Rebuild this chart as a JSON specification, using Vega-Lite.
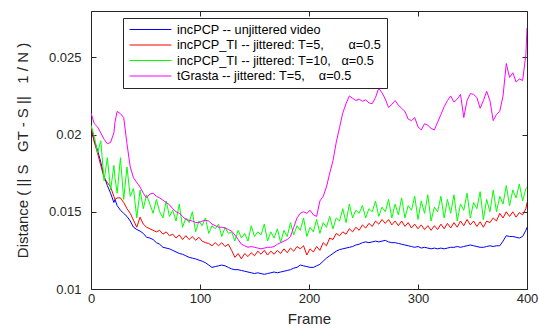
{
  "$schema": "https://vega.github.io/schema/vega-lite/v6.json",
  "width": 436,
  "height": 278,
  "autosize": {"type": "none"},
  "padding": {"left": 91, "top": 11, "right": 12, "bottom": 40},
  "background": "white",
  "config": {
    "font": "Liberation Sans",
    "view": {"stroke": null},
    "axis": {"grid": false, "labelFlush": false, "labelOverlap": false, "domainColor": "#262626", "tickColor": "#262626", "labelColor": "#262626", "titleColor": "#262626", "labelFont": "Liberation Sans", "titleFont": "Liberation Sans", "labelFontSize": 13, "titleFontSize": 15, "titleFontWeight": "normal", "tickSize": -5, "domainWidth": 1}
  },
  "data": {"values": [
    {"f":0,"a":0.0203,"b":0.0206,"c":0.0206,"d":0.0214},
    {"f":3,"a":0.0196,"b":0.0195,"c":0.0199,"d":0.0207},
    {"f":6,"a":0.0190,"b":0.0188,"c":0.0188,"d":0.0205},
    {"f":9,"a":0.0182,"b":0.0180,"c":0.0196,"d":0.0201},
    {"f":12,"a":0.0173,"b":0.0172,"c":0.0170,"d":0.0197},
    {"f":15,"a":0.0167,"b":0.0169,"c":0.0185,"d":0.0194},
    {"f":18,"a":0.0162,"b":0.0166,"c":0.0164,"d":0.0195},
    {"f":21,"a":0.0156,"b":0.0160,"c":0.0180,"d":0.0201},
    {"f":22,"a":0.0158,"b":0.0158,"c":0.0172,"d":0.0208},
    {"f":24,"a":0.0154,"b":0.0159,"c":0.0162,"d":0.0215},
    {"f":27,"a":0.0151,"b":0.0159,"c":0.0185,"d":0.02135},
    {"f":30,"a":0.0149,"b":0.0156,"c":0.0158,"d":0.0211},
    {"f":33,"a":0.0147,"b":0.0152,"c":0.0179,"d":0.0194},
    {"f":36,"a":0.0144,"b":0.0149,"c":0.0160,"d":0.0179},
    {"f":39,"a":0.0140,"b":0.01445,"c":0.0165,"d":0.0172},
    {"f":42,"a":0.01385,"b":0.0140,"c":0.0146,"d":0.0169},
    {"f":45,"a":0.01375,"b":0.01465,"c":0.0164,"d":0.0166},
    {"f":48,"a":0.0136,"b":0.0142,"c":0.0152,"d":0.0162},
    {"f":51,"a":0.01335,"b":0.0140,"c":0.0161,"d":0.0159},
    {"f":54,"a":0.0133,"b":0.0139,"c":0.0155,"d":0.01615},
    {"f":57,"a":0.0132,"b":0.0138,"c":0.0149,"d":0.0162},
    {"f":60,"a":0.0130,"b":0.0137,"c":0.0158,"d":0.0160},
    {"f":63,"a":0.0129,"b":0.0138,"c":0.0150,"d":0.0159},
    {"f":66,"a":0.0127,"b":0.01355,"c":0.0146,"d":0.01575},
    {"f":69,"a":0.01265,"b":0.0137,"c":0.0157,"d":0.0156},
    {"f":72,"a":0.0126,"b":0.01345,"c":0.0147,"d":0.01545},
    {"f":75,"a":0.0125,"b":0.01355,"c":0.0151,"d":0.0152},
    {"f":78,"a":0.0124,"b":0.0133,"c":0.0144,"d":0.0150},
    {"f":81,"a":0.0123,"b":0.0135,"c":0.0155,"d":0.0149},
    {"f":84,"a":0.01225,"b":0.0132,"c":0.0140,"d":0.0147},
    {"f":87,"a":0.01215,"b":0.01345,"c":0.0146,"d":0.0145},
    {"f":90,"a":0.01205,"b":0.0132,"c":0.0143,"d":0.01445},
    {"f":93,"a":0.0120,"b":0.0134,"c":0.0150,"d":0.0144},
    {"f":96,"a":0.01195,"b":0.01315,"c":0.0137,"d":0.0143},
    {"f":99,"a":0.01187,"b":0.01335,"c":0.0144,"d":0.0143},
    {"f":102,"a":0.0118,"b":0.0131,"c":0.0141,"d":0.0144},
    {"f":105,"a":0.0117,"b":0.0130,"c":0.0146,"d":0.01445},
    {"f":108,"a":0.01155,"b":0.01295,"c":0.0136,"d":0.0144},
    {"f":111,"a":0.0114,"b":0.0128,"c":0.0141,"d":0.0142},
    {"f":114,"a":0.01145,"b":0.0130,"c":0.0139,"d":0.0141},
    {"f":117,"a":0.0115,"b":0.0128,"c":0.0142,"d":0.0140},
    {"f":120,"a":0.01155,"b":0.0130,"c":0.0134,"d":0.0140},
    {"f":123,"a":0.0115,"b":0.01275,"c":0.0140,"d":0.01395},
    {"f":126,"a":0.0114,"b":0.0129,"c":0.0136,"d":0.01385},
    {"f":129,"a":0.0113,"b":0.0125,"c":0.0137,"d":0.01375},
    {"f":132,"a":0.01125,"b":0.01205,"c":0.0131,"d":0.0135},
    {"f":135,"a":0.01125,"b":0.0123,"c":0.0138,"d":0.0132},
    {"f":138,"a":0.0112,"b":0.01195,"c":0.0133,"d":0.0129},
    {"f":141,"a":0.01115,"b":0.0123,"c":0.0136,"d":0.0128},
    {"f":144,"a":0.0111,"b":0.0121,"c":0.0131,"d":0.0127},
    {"f":147,"a":0.01105,"b":0.01235,"c":0.0141,"d":0.01275},
    {"f":150,"a":0.0110,"b":0.01215,"c":0.0134,"d":0.0127},
    {"f":153,"a":0.01105,"b":0.01245,"c":0.0137,"d":0.01265},
    {"f":156,"a":0.0110,"b":0.01225,"c":0.0135,"d":0.0126},
    {"f":159,"a":0.01095,"b":0.0125,"c":0.0142,"d":0.01265},
    {"f":162,"a":0.0110,"b":0.0122,"c":0.0131,"d":0.0127},
    {"f":165,"a":0.01105,"b":0.01245,"c":0.0137,"d":0.0127},
    {"f":168,"a":0.0111,"b":0.01225,"c":0.0133,"d":0.01275},
    {"f":171,"a":0.01105,"b":0.0125,"c":0.0139,"d":0.0129},
    {"f":174,"a":0.0111,"b":0.0123,"c":0.0130,"d":0.0130},
    {"f":177,"a":0.01115,"b":0.0126,"c":0.0138,"d":0.0131},
    {"f":180,"a":0.0112,"b":0.01235,"c":0.0134,"d":0.0132},
    {"f":183,"a":0.01125,"b":0.01265,"c":0.0143,"d":0.0134},
    {"f":186,"a":0.01135,"b":0.01245,"c":0.0135,"d":0.0140},
    {"f":189,"a":0.0114,"b":0.01275,"c":0.0141,"d":0.0146},
    {"f":192,"a":0.01155,"b":0.0126,"c":0.0138,"d":0.0149},
    {"f":195,"a":0.0115,"b":0.0128,"c":0.0146,"d":0.0150},
    {"f":198,"a":0.01145,"b":0.0122,"c":0.0134,"d":0.0149},
    {"f":201,"a":0.0114,"b":0.0126,"c":0.0140,"d":0.0151},
    {"f":204,"a":0.0114,"b":0.0124,"c":0.0137,"d":0.0148},
    {"f":207,"a":0.0115,"b":0.01275,"c":0.0145,"d":0.0147},
    {"f":210,"a":0.0116,"b":0.0125,"c":0.0136,"d":0.0157},
    {"f":213,"a":0.0118,"b":0.0130,"c":0.0143,"d":0.0160},
    {"f":216,"a":0.0120,"b":0.0128,"c":0.0140,"d":0.0166},
    {"f":219,"a":0.01215,"b":0.0133,"c":0.0147,"d":0.0175},
    {"f":222,"a":0.0123,"b":0.0132,"c":0.0139,"d":0.0183},
    {"f":225,"a":0.01245,"b":0.0136,"c":0.0146,"d":0.0195},
    {"f":228,"a":0.01255,"b":0.01345,"c":0.0144,"d":0.02045},
    {"f":231,"a":0.0126,"b":0.0137,"c":0.0152,"d":0.0214},
    {"f":234,"a":0.01265,"b":0.01355,"c":0.0143,"d":0.0220},
    {"f":237,"a":0.0127,"b":0.0139,"c":0.0155,"d":0.0225},
    {"f":240,"a":0.01275,"b":0.0137,"c":0.0146,"d":0.02235},
    {"f":243,"a":0.01285,"b":0.0140,"c":0.0151,"d":0.0222},
    {"f":246,"a":0.0129,"b":0.0138,"c":0.0149,"d":0.0223},
    {"f":249,"a":0.0130,"b":0.01415,"c":0.0154,"d":0.02215},
    {"f":252,"a":0.01305,"b":0.01395,"c":0.0146,"d":0.02225},
    {"f":255,"a":0.0130,"b":0.01425,"c":0.0152,"d":0.02205},
    {"f":258,"a":0.01305,"b":0.01405,"c":0.0150,"d":0.0220},
    {"f":261,"a":0.0131,"b":0.0144,"c":0.0157,"d":0.0224},
    {"f":264,"a":0.01305,"b":0.0142,"c":0.0147,"d":0.0230},
    {"f":267,"a":0.0131,"b":0.0145,"c":0.0153,"d":0.0227},
    {"f":270,"a":0.01315,"b":0.01425,"c":0.0150,"d":0.0223},
    {"f":273,"a":0.01305,"b":0.0145,"c":0.0158,"d":0.02175},
    {"f":276,"a":0.0130,"b":0.01415,"c":0.0146,"d":0.02195},
    {"f":279,"a":0.0130,"b":0.0144,"c":0.0155,"d":0.0222},
    {"f":282,"a":0.01295,"b":0.0141,"c":0.0148,"d":0.0219},
    {"f":285,"a":0.0129,"b":0.0144,"c":0.0159,"d":0.0217},
    {"f":288,"a":0.01285,"b":0.01405,"c":0.0146,"d":0.0215},
    {"f":291,"a":0.0128,"b":0.0143,"c":0.0154,"d":0.0210},
    {"f":294,"a":0.01275,"b":0.01395,"c":0.0151,"d":0.0209},
    {"f":297,"a":0.0127,"b":0.0142,"c":0.0160,"d":0.0211},
    {"f":300,"a":0.01275,"b":0.0139,"c":0.0145,"d":0.0205},
    {"f":303,"a":0.01265,"b":0.01415,"c":0.0157,"d":0.0203},
    {"f":306,"a":0.0127,"b":0.01385,"c":0.0149,"d":0.0207},
    {"f":309,"a":0.01265,"b":0.0141,"c":0.0161,"d":0.0206},
    {"f":312,"a":0.0126,"b":0.0138,"c":0.0144,"d":0.0204},
    {"f":315,"a":0.01265,"b":0.0141,"c":0.0153,"d":0.0203},
    {"f":318,"a":0.0126,"b":0.01385,"c":0.0150,"d":0.0208},
    {"f":321,"a":0.01265,"b":0.0142,"c":0.0160,"d":0.0213},
    {"f":324,"a":0.0126,"b":0.0139,"c":0.0146,"d":0.0218},
    {"f":327,"a":0.01265,"b":0.01425,"c":0.0158,"d":0.0222},
    {"f":330,"a":0.0127,"b":0.01395,"c":0.0149,"d":0.0225},
    {"f":333,"a":0.0127,"b":0.0143,"c":0.0161,"d":0.0221},
    {"f":336,"a":0.01275,"b":0.0140,"c":0.0144,"d":0.0223},
    {"f":339,"a":0.0127,"b":0.0144,"c":0.0155,"d":0.0226},
    {"f":342,"a":0.01275,"b":0.0141,"c":0.0151,"d":0.0211},
    {"f":345,"a":0.0128,"b":0.0145,"c":0.0162,"d":0.0222},
    {"f":348,"a":0.01285,"b":0.01415,"c":0.0146,"d":0.02265},
    {"f":351,"a":0.0128,"b":0.0144,"c":0.0156,"d":0.0226},
    {"f":354,"a":0.01275,"b":0.01405,"c":0.0152,"d":0.0224},
    {"f":357,"a":0.0127,"b":0.01435,"c":0.0163,"d":0.0217},
    {"f":360,"a":0.0127,"b":0.0140,"c":0.0145,"d":0.0222},
    {"f":363,"a":0.01275,"b":0.0144,"c":0.0158,"d":0.0228},
    {"f":366,"a":0.0128,"b":0.0143,"c":0.0150,"d":0.0222},
    {"f":369,"a":0.01275,"b":0.0146,"c":0.0164,"d":0.0209},
    {"f":372,"a":0.0128,"b":0.0144,"c":0.0150,"d":0.0213},
    {"f":375,"a":0.0128,"b":0.0149,"c":0.0160,"d":0.0215},
    {"f":378,"a":0.0131,"b":0.0146,"c":0.0155,"d":0.0225},
    {"f":381,"a":0.01345,"b":0.0150,"c":0.0167,"d":0.0246},
    {"f":384,"a":0.0134,"b":0.0147,"c":0.0154,"d":0.0237},
    {"f":387,"a":0.0134,"b":0.0150,"c":0.0164,"d":0.0240},
    {"f":390,"a":0.01335,"b":0.01465,"c":0.0159,"d":0.0234},
    {"f":393,"a":0.0133,"b":0.01495,"c":0.0168,"d":0.0236},
    {"f":396,"a":0.0134,"b":0.0148,"c":0.0157,"d":0.0235},
    {"f":399,"a":0.0138,"b":0.0152,"c":0.0165,"d":0.0252},
    {"f":400,"a":0.0140,"b":0.0156,"c":0.0166,"d":0.0269}
  ]},
  "transform": [{"fold": ["a", "b", "c", "d"], "as": ["s", "v"]}],
  "layer": [
    {
      "mark": {"type": "line", "strokeWidth": 1, "clip": true},
      "encoding": {
        "x": {"field": "f", "type": "quantitative", "scale": {"domain": [0, 400], "nice": false}, "axis": {"orient": "bottom", "title": "Frame", "values": [0, 100, 200, 300, 400], "labelPadding": 8, "titlePadding": 6}},
        "y": {"field": "v", "type": "quantitative", "scale": {"domain": [0.01, 0.028], "nice": false, "zero": false}, "axis": {"orient": "left", "title": "Distance ( || S\u00a0\u00a0 GT - S ||\u00a0\u00a0 1 / N )", "values": [0.01, 0.015, 0.02, 0.025], "labelPadding": 15, "titlePadding": 18, "format": "~g"}},
        "color": {"field": "s", "type": "nominal", "scale": {"domain": ["a", "b", "c", "d"], "range": ["#0000ff", "#ff0000", "#00ff00", "#ff00ff"]},
          "legend": {"orient": "none", "legendX": 32, "legendY": 7, "title": null, "symbolType": "M-3.8,0H3.8", "symbolSize": 121, "symbolOffset": 16, "symbolStrokeWidth": 1.2, "symbolFillColor": "transparent", "strokeColor": "#262626", "fillColor": "white", "padding": 5, "labelFontSize": 12.7, "labelFont": "Liberation Sans", "labelColor": "#000000", "rowPadding": 1.5, "labelLimit": 400, "labelOffset": 20,
            "labelExpr": "datum.label == 'a' ? 'incPCP -- unjittered video' : datum.label == 'b' ? 'incPCP_TI -- jittered: T=5,\u00a0\u00a0\u00a0\u00a0\u00a0\u00a0\u00a0α=0.5' : datum.label == 'c' ? 'incPCP_TI -- jittered: T=10,\u00a0\u00a0\u00a0α=0.5' : 'tGrasta -- jittered: T=5,\u00a0\u00a0\u00a0\u00a0α=0.5'"}}
      }
    },
    {
      "mark": {"type": "line", "opacity": 0},
      "encoding": {
        "x": {"field": "f", "type": "quantitative", "axis": {"orient": "top", "title": null, "labels": false, "values": [0, 100, 200, 300, 400]}},
        "y": {"field": "v", "type": "quantitative", "axis": {"orient": "right", "title": null, "labels": false, "values": [0.01, 0.015, 0.02, 0.025]}},
        "detail": {"field": "s"}
      }
    }
  ],
  "resolve": {"axis": {"x": "independent", "y": "independent"}}
}
